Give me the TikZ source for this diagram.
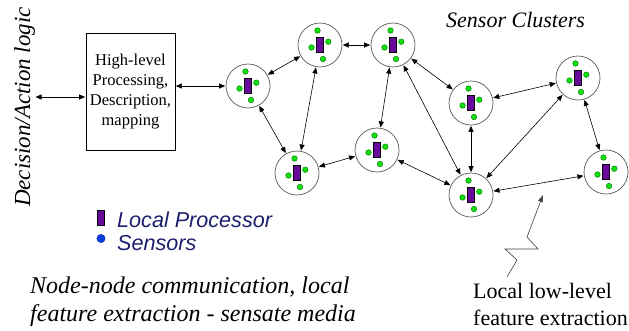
\documentclass[tikz,border=0pt]{standalone}
\usepackage{fontspec}
\setmainfont{Liberation Serif}
\setsansfont{Liberation Sans}
\usetikzlibrary{arrows.meta}
\definecolor{procpurple}{HTML}{6A0A9C}
\definecolor{sensgreen}{HTML}{10E010}
\definecolor{legendblue}{HTML}{1C1F6E}
\definecolor{sensblue}{HTML}{0A3EE0}
\tikzset{
  cluster/.style={circle, draw=black!65, line width=0.7pt, minimum size=44pt, inner sep=0pt},
  proc/.style={fill=procpurple, draw=black, line width=0.7pt},
  sens/.style={fill=sensgreen, draw=green!45!black, line width=0.4pt},
  link/.style={line width=0.6pt, {Triangle[length=6pt,width=5pt]}-{Triangle[length=6pt,width=5pt]}, shorten <=0.5pt, shorten >=0.5pt},
  hlbox/.style={draw, line width=0.7pt, minimum width=89pt, minimum height=117pt, align=center,
    font=\fontsize{16.5}{20}\selectfont, inner sep=0pt},
  caption/.style={font=\fontsize{22}{27}\selectfont, align=left, inner sep=0pt, anchor=base west},
  legend/.style={font=\sffamily\itshape\fontsize{21.6}{23}\selectfont, text=legendblue, inner sep=0pt, anchor=base west}
}
\begin{document}
\begin{tikzpicture}[x=1pt, y=-1pt]
\useasboundingbox (0,0) rectangle (629,330);

% high-level processing block and the decision/action side
\node[hlbox] (box) at (130.5,91.5) {High-level\\Processing,\\Description,\\mapping};
\node[font=\itshape\fontsize{23}{26}\selectfont, rotate=90, anchor=base, inner sep=0pt] (dal) at (30,107) {Decision/Action logic};
\coordinate (dalend) at (35,97);
\draw[link] (dalend) -- (box.west |- dalend);

% sensor clusters: processor in the middle, four sensors around it
\foreach \n/\x/\y in {A/248/86, B/320/45, C/393/45, D/297/173, E/377/150,
                      F/471/103, G/578/78, H/471/195, I/606/172} {
  \node[cluster] (\n) at (\x,\y) {};
  \begin{scope}[shift={(\x,\y)}]
    \draw[proc] (-3.8,-7.8) rectangle (3.8,7.8);
    \filldraw[sens] (-2.5,-14.5) circle (2.8);
    \filldraw[sens] (8.3,-3.3) circle (2.8);
    \filldraw[sens] (-8.5,2.5) circle (2.8);
    \filldraw[sens] (3,14) circle (2.8);
  \end{scope}
}

\draw[link] (box.east |- A) -- (A);
\foreach \a/\b in {A/B, A/D, B/C, B/D, C/E, C/F, C/H, D/E, E/H, F/G, F/H, G/H, G/I, H/I}
  \draw[link] (\a) -- (\b);

% labels
\node[font=\itshape\fontsize{22}{26}\selectfont, anchor=base west, inner sep=0pt] (sc) at (446,27) {Sensor Clusters};

\draw[proc] (97.5,210) rectangle (104,225.5);
\node[legend] (lp) at (117,227) {Local Processor};
\filldraw[fill=sensblue, draw=sensblue!70!black, line width=0.4pt] (101,238.5) circle (4.2);
\node[legend] (ls) at (117,250) {Sensors};

\node[caption, font=\itshape\fontsize{24}{28}\selectfont] (nn) at (30,293) {Node-node communication, local};
\node[caption, font=\itshape\fontsize{24}{28}\selectfont] (fe) at (30,321) {feature extraction - sensate media};

\node[caption] (ll) at (473,298) {Local low-level};
\node[caption] (fx) at (473,325) {feature extraction};

% zig-zag pointer to the sensing medium
\coordinate (z0) at (507,277);
\coordinate (z1) at (517,260);
\coordinate (z2) at (505,249);
\coordinate (z3) at (538,249);
\coordinate (z4) at (527,237);
\coordinate (z5) at (543,195);
\draw[line width=0.6pt, black!75, -{Triangle[length=7pt,width=5pt]}] (z0) -- (z1) -- (z2) -- (z3) -- (z4) -- (z5);
\end{tikzpicture}
\end{document}
